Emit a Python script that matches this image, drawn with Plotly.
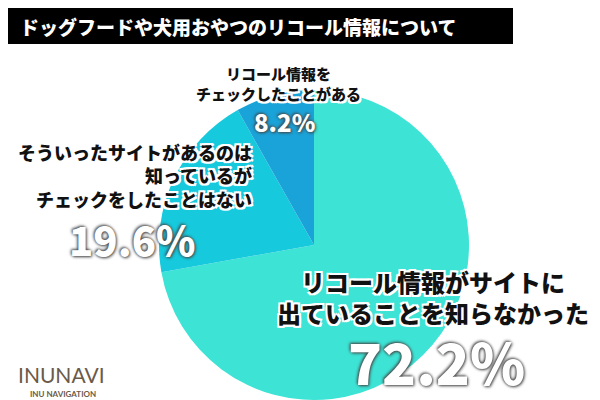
import plotly.graph_objects as go

labels = ["リコール情報がサイトに出ていることを知らなかった", "そういったサイトがあるのは知っているがチェックをしたことはない", "リコール情報をチェックしたことがある"]
values = [72.2, 19.6, 8.2]
colors = ["#3de3d5", "#16c9dd", "#1aa3d9"]

fig = go.Figure(go.Pie(labels=labels, values=values, sort=False, direction="clockwise", rotation=0,
    marker=dict(colors=colors, line=dict(color="white", width=0)), textinfo="none", hoverinfo="none",
    domain=dict(x=[0.25, 0.77], y=[0.02, 0.795])))

F = "Noto Sans CJK JP"
sh_w = "2px 2px 0 white, -2px -2px 0 white, 2px -2px 0 white, -2px 2px 0 white, 0 2px 0 white, 0 -2px 0 white"
sh_d = "1px 1px 3px #444, -1px -1px 3px #444"
anns = [
    (270, 76, "リコール情報を<br>チェックしたことがある", 15, "#111", sh_w, "center", "center"),
    (276, 114, "8.2%", 24, "white", sh_d, "center", "center"),
    (246, 168, "そういったサイトがあるのは<br>知っているが<br>チェックをしたことはない", 18, "#111", sh_w, "right", "right"),
    (124, 231, "19.6%", 40, "white", sh_d, "center", "center"),
    (425, 289, "リコール情報がサイトに<br>出ていることを知らなかった", 24, "#111", sh_w, "center", "center"),
    (428, 352, "72.2%", 56, "white", sh_d, "center", "center"),
]
for x, y, t, s, c, sh, al, xa in anns:
    fig.add_annotation(x=x/600, y=1-y/400, xref="paper", yref="paper", xanchor=xa, yanchor="middle",
        text=t, showarrow=False, align=al, font=dict(family=F, size=s, color=c, shadow=sh, weight=900))

fig.add_shape(type="rect", xref="paper", yref="paper", x0=0, x1=505/600, y0=1-36/400, y1=1, fillcolor="black", line_width=0)
fig.add_annotation(x=10/600, y=1-18/400, xref="paper", yref="paper", xanchor="left", yanchor="middle", showarrow=False,
    text="ドッグフードや犬用おやつのリコール情報について", font=dict(family=F, size=19, color="white", weight=900))
fig.add_annotation(x=8/600, y=1-366/400, xref="paper", yref="paper", xanchor="left", yanchor="middle", showarrow=False,
    text="INUNAVI", font=dict(family="Lato", size=21, color="#6b5a48"))
fig.add_annotation(x=20/600, y=1-386/400, xref="paper", yref="paper", xanchor="left", yanchor="middle", showarrow=False,
    text="<b>INU NAVIGATION</b>", font=dict(family="Lato", size=8, color="#6b5a48"))

fig.update_layout(width=600, height=400, margin=dict(l=0, r=0, t=0, b=0), showlegend=False,
    paper_bgcolor="white", plot_bgcolor="white")
fig.write_html("out.html")
